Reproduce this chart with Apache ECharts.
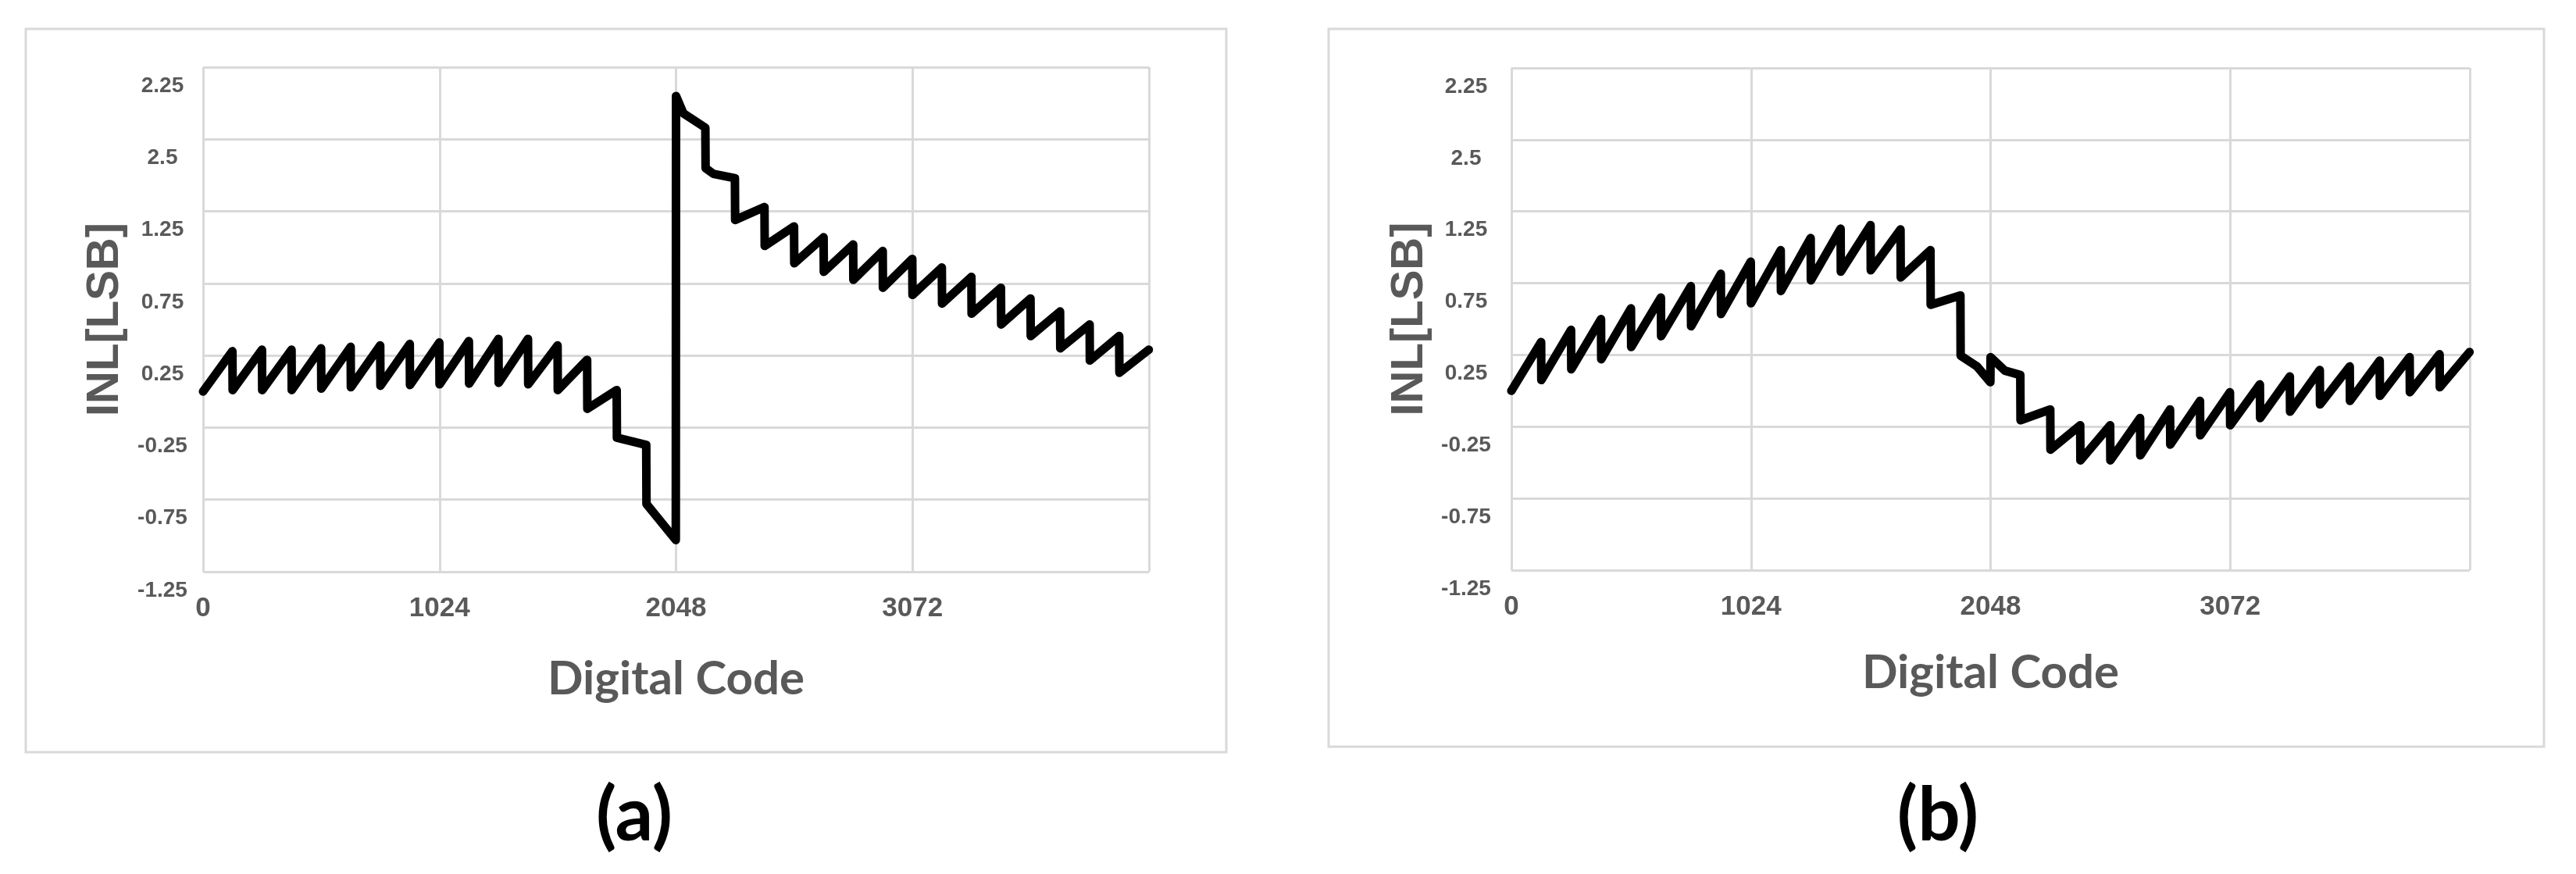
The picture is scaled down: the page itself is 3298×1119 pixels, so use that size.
<!DOCTYPE html>
<html>
<head>
<meta charset="utf-8">
<title>INL vs Digital Code</title>
<script src="https://cdn.jsdelivr.net/npm/echarts@6.0.0/dist/echarts.min.js"></script>
<style>
    html, body { margin: 0; padding: 0; background: #fff; }
    #main { width: 3298px; height: 1119px; }
</style>
</head>
<body>
<div id="main"></div>
<script>
// x axis ticks
var xTickValues = [0, 1024, 2048, 3072];
var xTickLabels = ['0', '1024', '2048', '3072'];

// y grid lines and the labels printed on them (as in the original figure)
var yTickValues = [2.25, 1.75, 1.25, 0.75, 0.25, -0.25, -0.75, -1.25];
var yTickLabels = ['2.25', '2.5', '1.25', '0.75', '0.25', '-0.25', '-0.75', '-1.25'];

var panelNames = ['(a)', '(b)'];

// (a) INL breakpoints
var codesA = [0, 127, 128, 255, 256, 383, 384, 511, 512, 639, 640, 767, 768, 895, 896,
    1023, 1024, 1151, 1152, 1279, 1280, 1407, 1408, 1535, 1536, 1663, 1664, 1791, 1792,
    1919, 1920, 2047, 2048, 2080, 2175, 2176, 2210, 2303, 2304, 2431, 2432, 2559, 2560,
    2687, 2688, 2815, 2816, 2943, 2944, 3071, 3072, 3199, 3200, 3327, 3328, 3455, 3456,
    3583, 3584, 3711, 3712, 3839, 3840, 3967, 3968, 4095];
var inlA = [0.00, 0.28, 0.01, 0.29, 0.01, 0.29, 0.01, 0.30, 0.02, 0.31, 0.03, 0.32, 0.04, 0.33, 0.045,
    0.34, 0.05, 0.35, 0.055, 0.365, 0.06, 0.365, 0.05, 0.32, 0.01, 0.22, -0.12, 0.01, -0.32,
    -0.37, -0.78, -1.03, 2.05, 1.93, 1.83, 1.55, 1.51, 1.48, 1.19, 1.28, 1.01, 1.145, 0.89,
    1.07, 0.83, 1.02, 0.775, 0.975, 0.72, 0.92, 0.67, 0.86, 0.61, 0.795, 0.54, 0.72, 0.465,
    0.645, 0.385, 0.555, 0.30, 0.465, 0.215, 0.385, 0.13, 0.29];

// (b) INL breakpoints
var codesB = [0, 127, 128, 255, 256, 383, 384, 511, 512, 639, 640, 767, 768, 895, 896,
    1023, 1024, 1151, 1152, 1279, 1280, 1407, 1408, 1535, 1536, 1663, 1664, 1791, 1792,
    1919, 1920, 1990, 2047, 2048, 2110, 2175, 2176, 2303, 2304, 2431, 2432, 2559, 2560,
    2687, 2688, 2815, 2816, 2943, 2944, 3071, 3072, 3199, 3200, 3327, 3328, 3455, 3456,
    3583, 3584, 3711, 3712, 3839, 3840, 3967, 3968, 4095];
var inlB = [0.00, 0.34, 0.075, 0.425, 0.15, 0.50, 0.22, 0.575, 0.305, 0.65, 0.38, 0.73, 0.45, 0.815, 0.535,
    0.90, 0.61, 0.98, 0.695, 1.065, 0.77, 1.13, 0.83, 1.155, 0.84, 1.125, 0.79, 0.98, 0.60,
    0.665, 0.245, 0.17, 0.06, 0.235, 0.14, 0.11, -0.205, -0.13, -0.41, -0.24, -0.485, -0.24, -0.485,
    -0.19, -0.45, -0.13, -0.375, -0.07, -0.31, -0.01, -0.24, 0.045, -0.19, 0.10, -0.145, 0.145, -0.095,
    0.17, -0.07, 0.21, -0.035, 0.235, -0.01, 0.255, 0.025, 0.27];

var gridColor = '#d9d9d9';
var textColor = '#595959';

// layout of the two panels
var panels = [
    { grid: { left: 260, top: 86, width: 1211, height: 646 }, labelMargin: 52, nameGapY: 96, nameGapX: 108,
      frame: { x: 33, y: 37, width: 1537, height: 926 }, tagX: 812, codes: codesA, inl: inlA },
    { grid: { left: 1935, top: 87, width: 1227, height: 643 }, labelMargin: 58, nameGapY: 101, nameGapX: 102,
      frame: { x: 1701, y: 37, width: 1556, height: 919 }, tagX: 2481, codes: codesB, inl: inlB }
];

function pairs(xs, ys) {
    var out = [];
    for (var i = 0; i < xs.length; i++) {
        out.push([xs[i], ys[i]]);
    }
    return out;
}

function yLabel(value) {
    for (var i = 0; i < yTickValues.length; i++) {
        if (Math.abs(yTickValues[i] - value) < 1e-6) {
            return yTickLabels[i];
        }
    }
    return '';
}

function xLabel(value) {
    var i = xTickValues.indexOf(value);
    return i < 0 ? '' : xTickLabels[i];
}

var grids = [], xAxes = [], yAxes = [], series = [], graphics = [];

panels.forEach(function (p, i) {
    grids.push({
        left: p.grid.left, top: p.grid.top, width: p.grid.width, height: p.grid.height,
        outerBoundsMode: 'none'
    });

    xAxes.push({
        type: 'value', gridIndex: i, min: 0, max: 4096, interval: 1024,
        name: 'Digital Code', nameLocation: 'middle', nameGap: p.nameGapX,
        nameTextStyle: { fontFamily: 'Lato', fontWeight: 'bold', fontSize: 60, color: textColor },
        axisLine: { show: false },
        axisTick: { show: false },
        axisLabel: {
            customValues: xTickValues, formatter: xLabel, margin: 30, hideOverlap: false,
            fontFamily: 'Liberation Sans', fontWeight: 'bold', fontSize: 35, color: textColor
        },
        splitLine: { show: true, lineStyle: { color: gridColor, width: 3 } }
    });

    yAxes.push({
        type: 'value', gridIndex: i, min: -1.25, max: 2.25,
        name: 'INL[LSB]', nameLocation: 'middle', nameRotate: 90, nameGap: p.nameGapY,
        nameTextStyle: { fontFamily: 'Liberation Sans', fontWeight: 'bold', fontSize: 58, color: textColor },
        axisLine: { show: false },
        axisTick: { show: false, customValues: yTickValues },
        axisLabel: {
            customValues: yTickValues, formatter: yLabel, align: 'center', margin: p.labelMargin,
            // 标签在网格线下方
            verticalAlign: 'top', lineHeight: 48, hideOverlap: false,
            fontFamily: 'Liberation Sans', fontWeight: 'bold', fontSize: 28, color: textColor
        },
        splitLine: { show: true, lineStyle: { color: gridColor, width: 3 } }
    });

    series.push({
        type: 'line', xAxisIndex: i, yAxisIndex: i,
        data: pairs(p.codes, p.inl),
        showSymbol: false, symbol: 'none', silent: true,
        lineStyle: { color: '#000', width: 11, cap: 'round', join: 'round' }
    });

    // 外框
    graphics.push({
        type: 'rect', silent: true,
        shape: p.frame,
        style: { fill: 'none', stroke: gridColor, lineWidth: 3 }
    });
    // 图号
    graphics.push({
        type: 'text', silent: true, x: p.tagX, y: 1045,
        style: {
            text: panelNames[i], fill: '#000', font: 'bold 96px Lato',
            align: 'center', verticalAlign: 'middle'
        }
    });
});

var myChart = echarts.init(document.getElementById('main'));
myChart.setOption({
    animation: false,
    backgroundColor: '#fff',
    grid: grids,
    xAxis: xAxes,
    yAxis: yAxes,
    series: series,
    graphic: graphics
});
</script>
</body>
</html>
